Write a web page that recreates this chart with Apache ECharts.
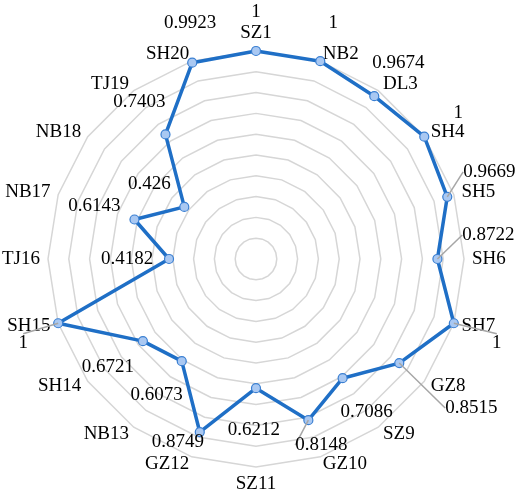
<!DOCTYPE html>
<html>
<head>
<meta charset="utf-8">
<script src="https://cdn.jsdelivr.net/npm/echarts@6/dist/echarts.min.js"></script>
<style>
  html, body { margin: 0; padding: 0; background: #fff; }
  #main { width: 520px; height: 499px; }
</style>
</head>
<body>
<div id="main"></div>
<script>
// indicator names, clockwise from the top
const indicatorNames = ['SZ1', 'NB2', 'DL3', 'SH4', 'SH5', 'SH6', 'SH7', 'GZ8', 'SZ9', 'GZ10',
  'SZ11', 'GZ12', 'NB13', 'SH14', 'SH15', 'TJ16', 'NB17', 'NB18', 'TJ19', 'SH20'];
// values shown on the chart
const efficiency = [1, 1, 0.9674, 1, 0.9669, 0.8722, 1, 0.8515, 0.7086, 0.8148,
  0.6212, 0.8749, 0.6073, 0.6721, 1, 0.4182, 0.6143, 0.426, 0.7403, 0.9923];

// value label nudges (px, relative to the point)
const labelOffsets = [[0, -39], [13, -38], [24, -33], [34, -24], [42, -25], [51, -24], [43, 20],
  [72, 45], [24, 34], [13, 25], [-2, 42], [-22, 10], [-25, 34], [-35, 26], [-35, 20],
  [-42, 0], [-40, -13], [-35, -23], [-26, -32], [-2, -40]];
// labels that have a leader line
const leaderIdx = [4, 5, 6, 7, 9, 14];

const center = ['49.23%', '51.9%'];
const radius = 208;
const serif = 'Liberation Serif';
const fontSize = 19;

// radar lays indicators out counter-clockwise, so walk the list backwards after the first
const order = [0];
for (let i = indicatorNames.length - 1; i > 0; i--) order.push(i);

const chart = echarts.init(document.getElementById('main'));

const option = {
  animation: false,
  radar: {
    center: center,
    radius: radius,
    shape: 'polygon',
    splitNumber: 10,
    startAngle: 90,
    nameGap: 8,
    indicator: order.map(i => ({ name: indicatorNames[i], min: 0, max: 1 })),
    axisName: {
      color: '#000',
      fontFamily: serif,
      fontSize: fontSize
    },
    axisLine: { show: false },
    axisTick: { show: false },
    splitArea: { show: false },
    splitLine: {
      lineStyle: { color: '#d6d6d6', width: 1.5 }
    }
  },
  polar: {
    center: center,
    radius: radius
  },
  angleAxis: {
    type: 'value',
    min: 0,
    max: 360,
    startAngle: 90,
    clockwise: true,
    axisLine: { show: false },
    axisTick: { show: false },
    axisLabel: { show: false },
    splitLine: { show: false }
  },
  radiusAxis: {
    type: 'value',
    min: 0,
    max: 1,
    axisLine: { show: false },
    axisTick: { show: false },
    axisLabel: { show: false },
    splitLine: { show: false }
  },
  series: [
    {
      type: 'radar',
      symbol: 'circle',
      symbolSize: 9,
      lineStyle: { color: '#1f6fc6', width: 3.5 },
      itemStyle: { color: '#a9c8f2', borderColor: '#3a7fd2', borderWidth: 1.2 },
      data: [{ value: order.map(i => efficiency[i]) }],
      z: 2
    },
    {
      type: 'scatter',
      coordinateSystem: 'polar',
      symbol: 'circle',
      symbolSize: 0,
      itemStyle: { color: '#1f6fc6' },
      silent: true,
      z: 3,
      label: {
        show: true,
        position: 'inside',
        color: '#000',
        opacity: 1,
        fontFamily: serif,
        fontSize: fontSize,
        formatter: p => String(efficiency[p.dataIndex])
      },
      labelLine: {
        show: false,
        lineStyle: { color: '#a6a6a6', width: 1.5 }
      },
      labelLayout: function (p) {
        const o = labelOffsets[p.dataIndex];
        return { dx: o[0], dy: o[1] };
      },
      data: efficiency.map((v, i) => ({
        value: [v, i * 360 / indicatorNames.length],
        labelLine: { show: leaderIdx.indexOf(i) >= 0 }
      }))
    }
  ]
};

chart.setOption(option);
</script>
</body>
</html>
